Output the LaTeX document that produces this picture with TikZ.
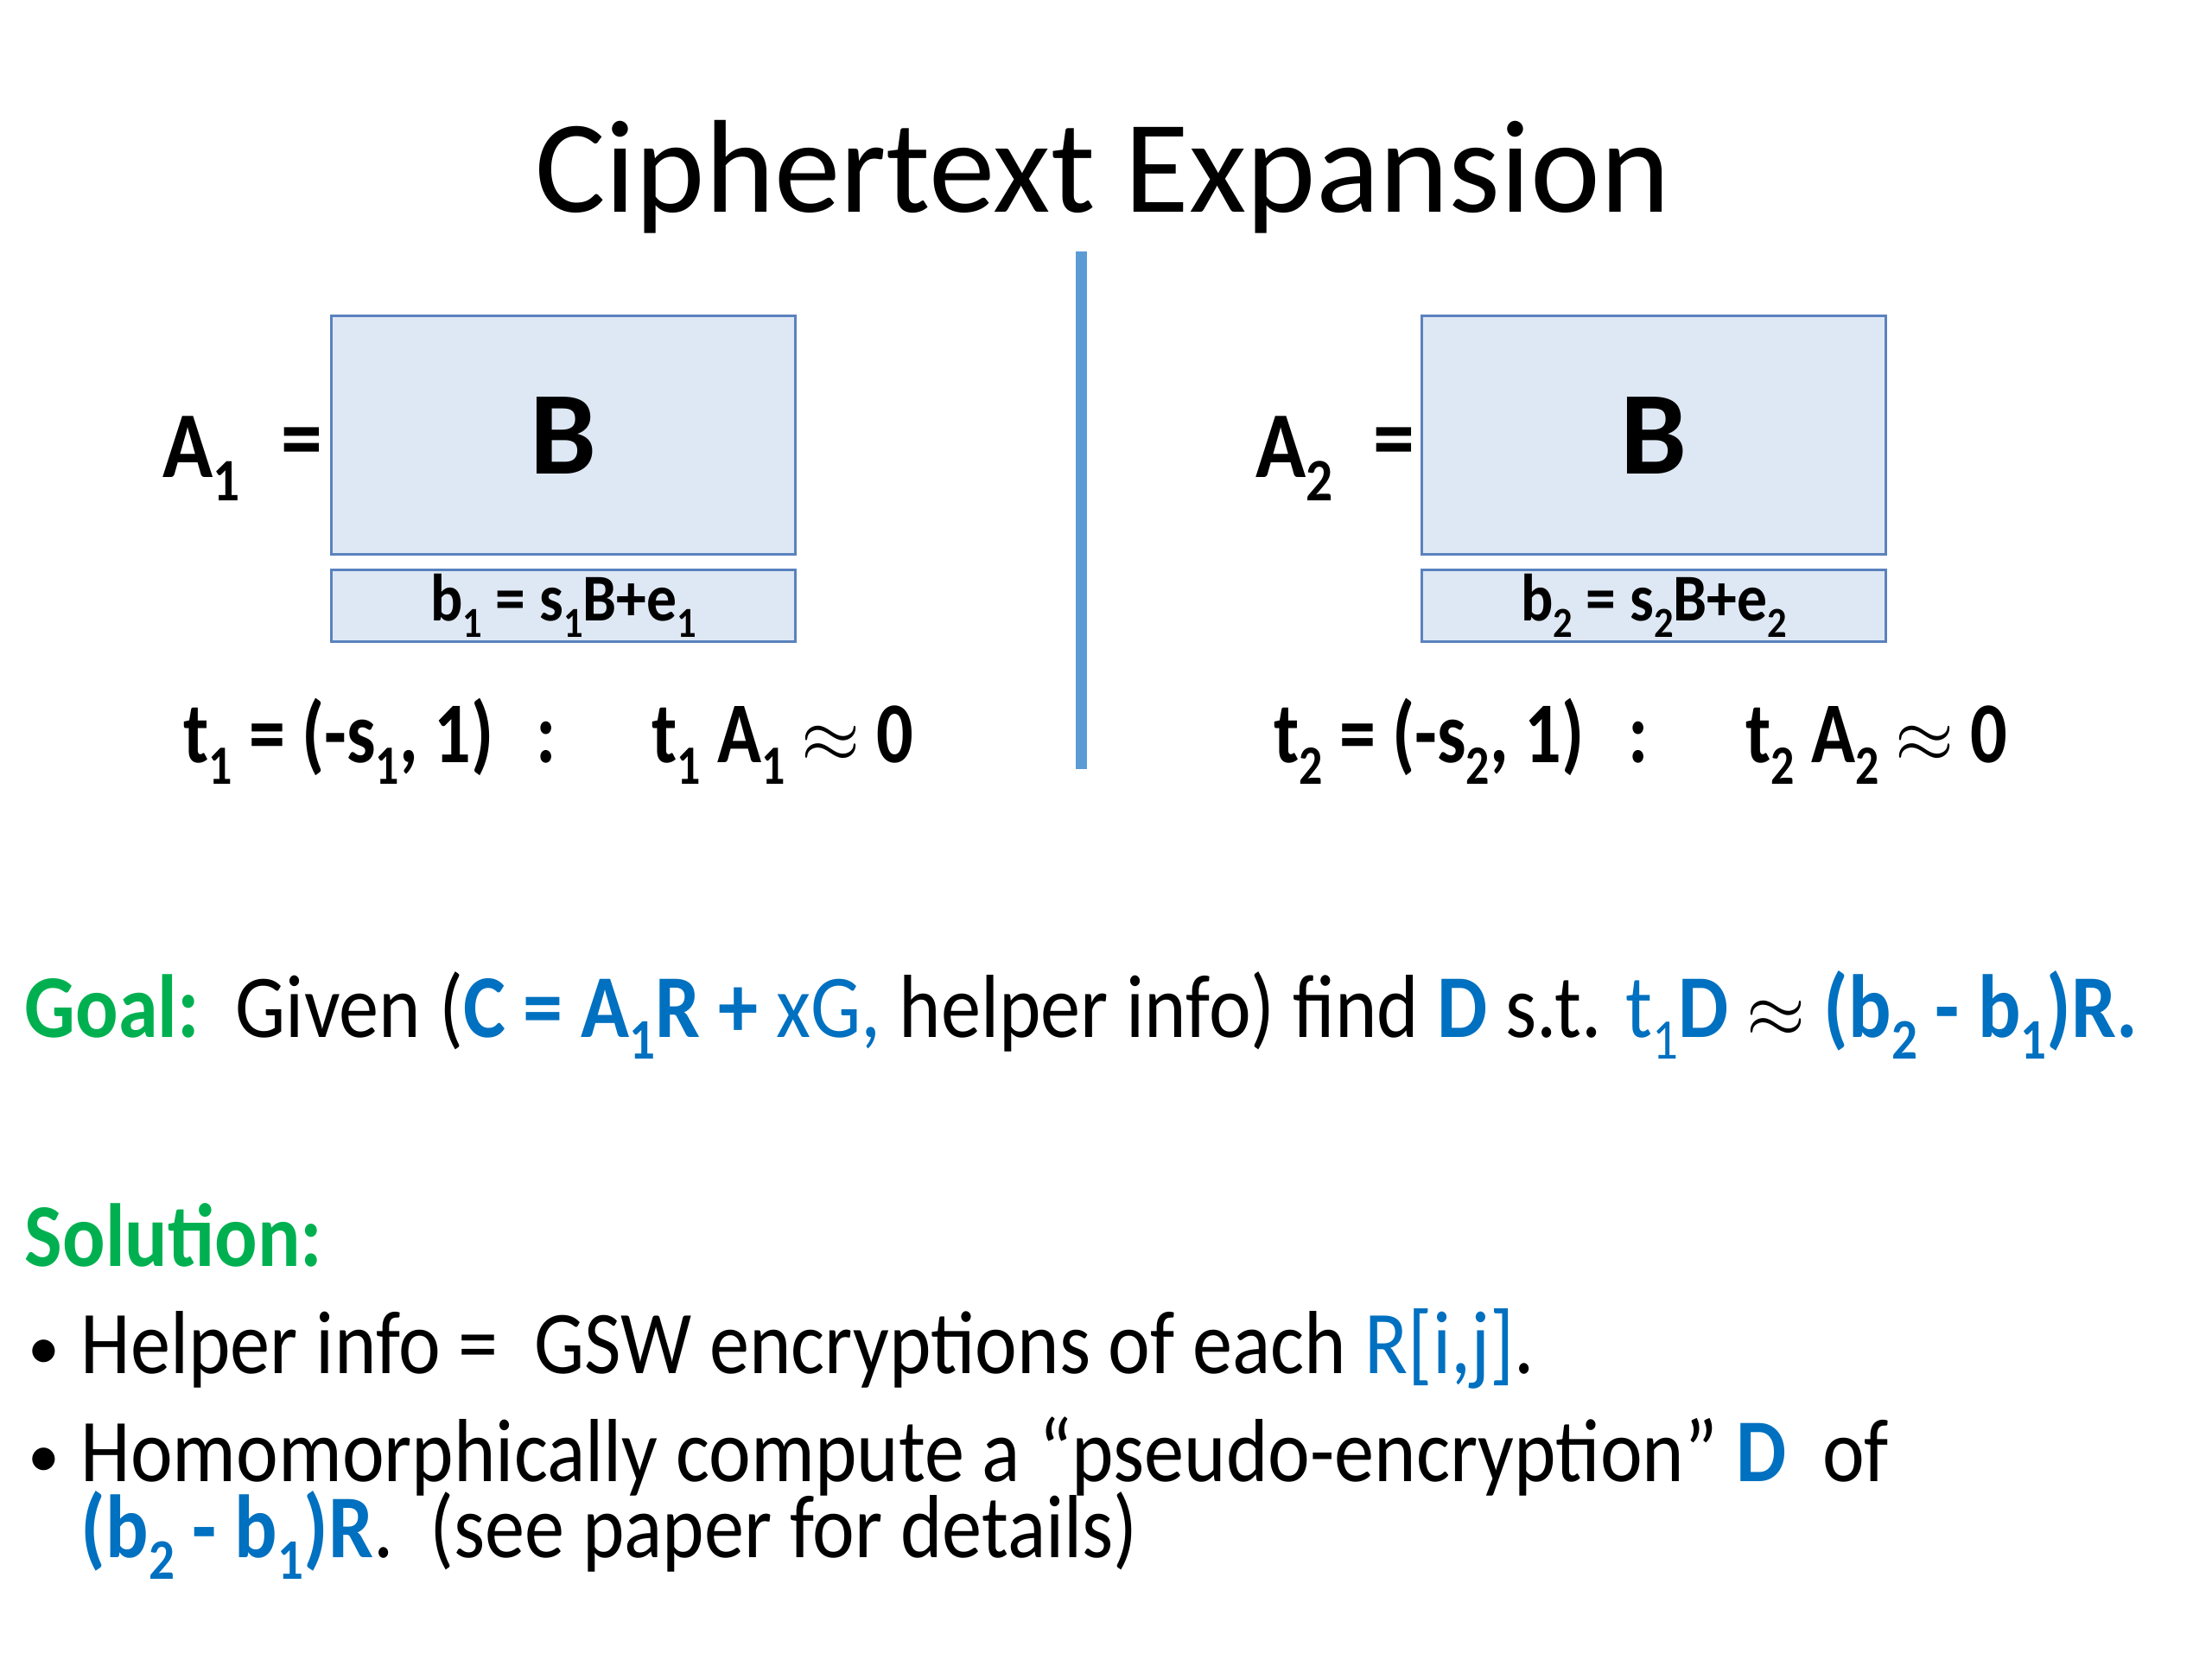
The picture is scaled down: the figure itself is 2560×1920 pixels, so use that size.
\documentclass[tikz,border=0pt]{standalone}
\usepackage{fontspec}
\setmainfont{Carlito}
\newfontfamily\fbody{Carlito}[FakeStretch=0.89]
\newfontfamily\feqs{Carlito}[FakeStretch=0.84]
\newfontfamily\frow{Carlito}[FakeStretch=0.9]
\newfontfamily\flbl{Carlito}[FakeStretch=0.88]
\definecolor{myblue}{HTML}{0070C0}
\definecolor{mygreen}{HTML}{00B050}
\definecolor{boxfill}{HTML}{DEE8F4}
\definecolor{boxline}{HTML}{5A82BE}
\definecolor{rulecol}{HTML}{5B9BD5}
\makeatletter
\newcommand\dn[1]{\raisebox{-0.25em}{\fontsize{\strip@pt\dimexpr0.64\dimexpr\f@size pt\relax\relax}{0}\selectfont #1}}
\makeatother
\tikzset{
  bigbox/.style={draw=boxline, fill=boxfill, line width=0.03cm, inner sep=0pt,
    minimum width=5.37cm, minimum height=2.76cm, anchor=north west,
    font=\fontsize{39}{45}\selectfont\bfseries},
  rowbox/.style={draw=boxline, fill=boxfill, line width=0.03cm, inner sep=0pt,
    minimum width=5.37cm, minimum height=0.83cm, anchor=north west,
    font=\frow\fontsize{22}{26}\selectfont\bfseries},
  lbl/.style={anchor=base west, inner sep=0pt, font=\flbl\fontsize{31}{36}\selectfont\bfseries},
  eqs/.style={anchor=base west, inner sep=0pt, font=\feqs\fontsize{28.5}{34}\selectfont\bfseries},
  body/.style={anchor=base west, inner sep=0pt, font=\fbody\fontsize{29.5}{36}\selectfont},
  bullet/.style={anchor=base west, inner sep=0pt, font=\fontsize{21}{26}\selectfont},
}
\begin{document}
\begin{tikzpicture}[x=0.01cm, y=-0.01cm]
\useasboundingbox (0,0) rectangle (2560,1920);
\node[anchor=base, inner sep=0pt, font=\fontsize{43.5}{50}\selectfont] (title) at (1276,245) {Ciphertext Expansion};
\coordinate (vtop) at (1251,291);
\coordinate (vbot) at (1251,890);
\draw[rulecol, line width=0.13cm] (vtop) -- (vbot);

% left
\node[bigbox] (B1) at (382,364) {B};
\node[rowbox] (b1) at (382,658) {b\dn{1} = s\dn{1}B+e\dn{1}};
\node[lbl] (A1) at (188,552) {A\dn{1}};
\node[lbl, anchor=center] (eq1) at (349,519) {=};
\node[eqs] (t1) at (212,882) {t\dn{1} = (-s\dn{1}, 1)};
\node[eqs] (c1) at (620,882) {:};
\node[eqs] (r1) at (754,882) {t\dn{1} A\dn{1} $\approx$ 0};

% right
\node[bigbox] (B2) at (1644,364) {B};
\node[rowbox] (b2) at (1644,658) {b\dn{2} = s\dn{2}B+e\dn{2}};
\node[lbl] (A2) at (1453,552) {A\dn{2}};
\node[lbl, anchor=center] (eq2) at (1613,519) {=};
\node[eqs] (t2) at (1474,882) {t\dn{2} = (-s\dn{2}, 1)};
\node[eqs] (c2) at (1884,882) {:};
\node[eqs] (r2) at (2020,882) {t\dn{2} A\dn{2} $\approx$ 0};

% goal
\node[body] (goal) at (28,1200) {{\color{mygreen}\bfseries Goal:}\ \ Given ({\color{myblue}\bfseries C = A\dn{1}R +} {\color{myblue}xG,} helper info) find {\color{myblue}\bfseries D} s.t. {\color{myblue}t\dn{1}}{\color{myblue}\bfseries D} $\approx$ {\color{myblue}\bfseries (b\dn{2} - b\dn{1})R.}};

% solution
\node[body] (sol) at (28,1465) {\color{mygreen}\bfseries Solution:};
\node[bullet] (bul1) at (32,1584) {•};
\node[body] (l1) at (93,1589) {Helper info =\ \ GSW encryptions of each {\color{myblue}R[i,j]}.};
\node[bullet] (bul2) at (32,1709) {•};
\node[body] (l2) at (93,1714) {Homomorphically compute a “pseudo-encryption” {\color{myblue}\bfseries D}\ \ of};
\node[body] (l3) at (93,1802) {{\color{myblue}\bfseries (b\dn{2} - b\dn{1})R}.\ \ (see paper for details)};
\end{tikzpicture}
\end{document}
